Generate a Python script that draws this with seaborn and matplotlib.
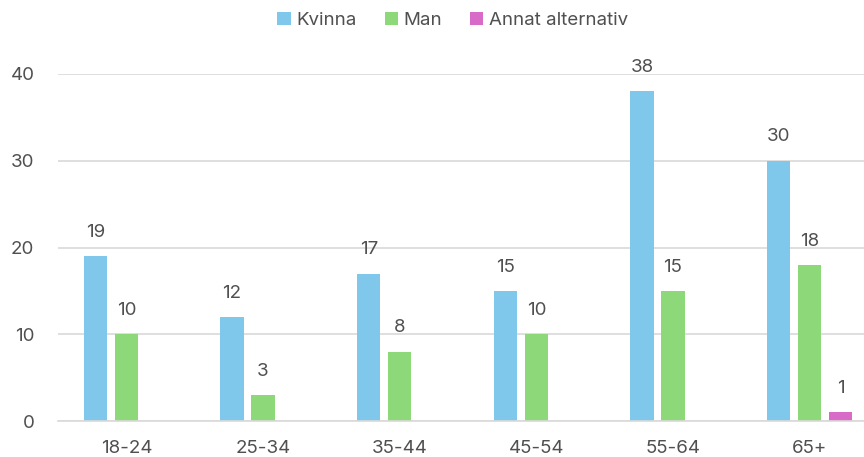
import matplotlib
matplotlib.use("Agg")
import matplotlib.pyplot as plt
from matplotlib.patches import Patch
import seaborn as sns
import pandas as pd

age_groups = ["18-24", "25-34", "35-44", "45-54", "55-64", "65+"]
kvinna = [19, 12, 17, 15, 38, 30]
man = [10, 3, 8, 10, 15, 18]
annat = [0, 0, 0, 0, 0, 1]
series_names = ["Kvinna", "Man", "Annat alternativ"]
colors = ["#7FC8EC", "#8DD97A", "#D86BC8"]

rows = []
for name, vals in zip(series_names, [kvinna, man, annat]):
    for g, v in zip(age_groups, vals):
        rows.append({"Ålder": g, "Kön": name, "Antal": v})
df = pd.DataFrame(rows)

sns.set_theme(style="white")
plt.rcParams["font.family"] = ["Inter", "DejaVu Sans"]
text_color = "#505050"
fs = 13.5

fig = plt.figure(figsize=(8.64, 4.57), dpi=100)
ax = fig.add_axes([58 / 864, 36 / 457, 820 / 864, 347 / 457])

sns.barplot(data=df, x="Ålder", y="Antal", hue="Kön", order=age_groups,
            hue_order=series_names, palette=colors, width=0.68, gap=0.24,
            saturation=1, errorbar=None, ax=ax, legend=False, linewidth=0)

ax.set_ylim(0, 40)
ax.set_yticks([0, 10, 20, 30, 40])
ax.set_xlim(-0.5, len(age_groups) - 0.5)
ax.yaxis.grid(True, color="#D9D9D9", linewidth=1.2)
ax.set_axisbelow(True)
for s in ["top", "right", "left"]:
    ax.spines[s].set_visible(False)
ax.spines["bottom"].set_color("#D9D9D9")
ax.spines["bottom"].set_linewidth(1.2)
ax.set_xlabel("")
ax.set_ylabel("")
ax.tick_params(axis="both", length=0, labelsize=fs, colors=text_color)
ax.tick_params(axis="y", pad=17)
ax.tick_params(axis="x", pad=14)

for cont, vals in zip(ax.containers, [kvinna, man, annat]):
    labels = [str(v) if v > 0 else "" for v in vals]
    ax.bar_label(cont, labels=labels, padding=11, fontsize=fs,
                 color=text_color, clip_on=False)

handles = [Patch(facecolor=c, edgecolor="none") for c in colors]
fig.legend(handles, series_names, loc="center", bbox_to_anchor=(0.524, 0.956),
           ncol=3, frameon=False, fontsize=fs, handlelength=0.7,
           handleheight=0.7, handletextpad=0.3, columnspacing=1.5,
           labelcolor=text_color)

fig.savefig("out.png", dpi=100)
